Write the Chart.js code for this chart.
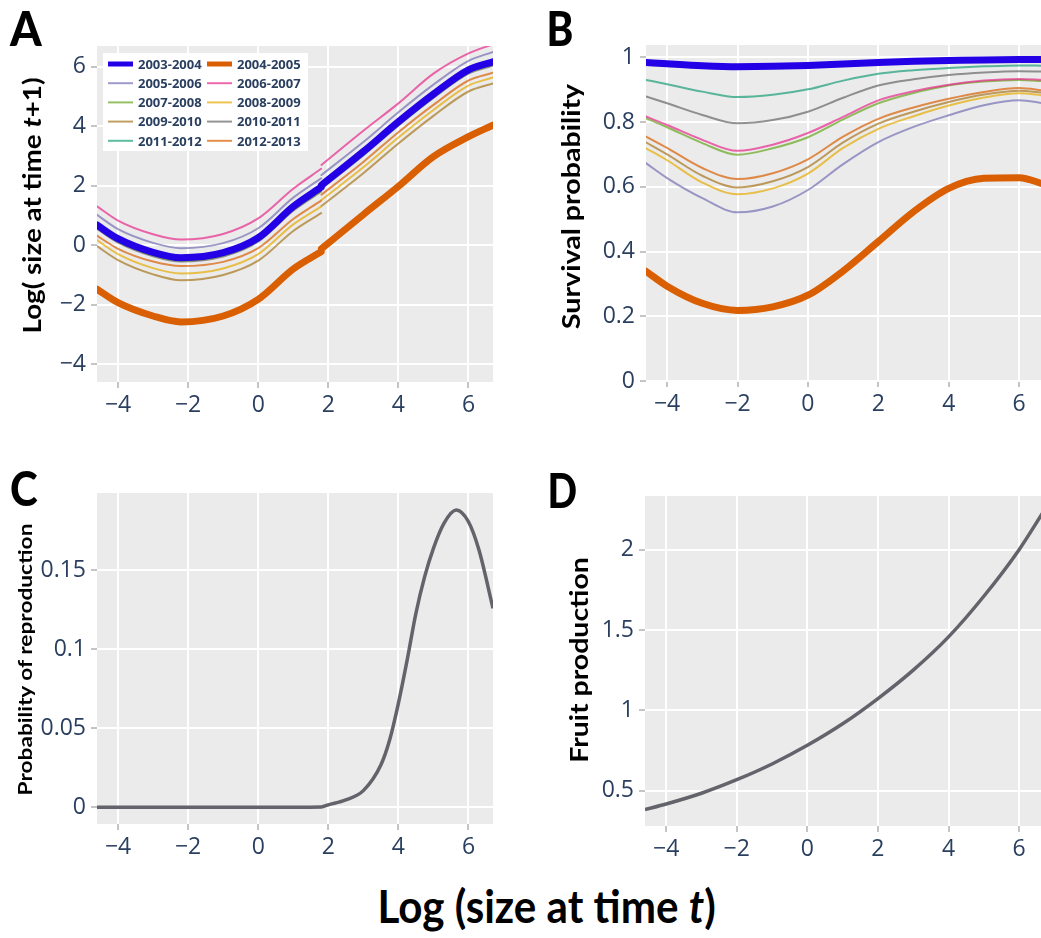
<!DOCTYPE html>
<html>
<head>
<meta charset="utf-8">
<script src="https://cdn.jsdelivr.net/npm/chart.js@4.4.0/dist/chart.umd.min.js"></script>
<style>
  body { margin: 0; width: 1041px; height: 938px; background: #fff; position: relative; overflow: hidden; font-family: Lato, sans-serif; }
  .panel { position: absolute; }
  .txt { position: absolute; white-space: nowrap; line-height: 1; color: #000; font-family: Lato, sans-serif; font-weight: bold; transform-origin: center center; }
  .letter { font-weight: 900; font-size: 48px; }
</style>
</head>
<body>
<div class="panel" style="left:0;top:0;width:500px;height:425px"><canvas id="growthChart"></canvas></div>
<div class="panel" style="left:546px;top:0;width:495px;height:425px"><canvas id="survivalChart"></canvas></div>
<div class="panel" style="left:0;top:450px;width:500px;height:425px"><canvas id="reproChart"></canvas></div>
<div class="panel" style="left:546px;top:450px;width:495px;height:425px"><canvas id="fruitChart"></canvas></div>

<div class="txt letter" id="letterA">A</div>
<div class="txt letter" id="letterB">B</div>
<div class="txt letter" id="letterC">C</div>
<div class="txt letter" id="letterD">D</div>
<div class="txt" id="titleA" style="font-size:25px">Log( size at time <i>t</i>+1)</div>
<div class="txt" id="titleB" style="font-size:25px">Survival probability</div>
<div class="txt" id="titleC" style="font-size:19px">Probability of reproduction</div>
<div class="txt" id="titleD" style="font-size:24px">Fruit production</div>
<div class="txt" id="titleX" style="font-size:46px">Log (size at time <i>t</i>)</div>

<script>
// years and their line styles
const years = ['2003-2004', '2004-2005', '2005-2006', '2006-2007', '2007-2008',
               '2008-2009', '2009-2010', '2010-2011', '2011-2012', '2012-2013'];
const yearColors = ['#2300e6', '#d95f02', 'rgba(117,112,179,0.7)', 'rgba(231,41,138,0.7)',
                    'rgba(102,166,30,0.7)', 'rgba(230,171,2,0.7)', 'rgba(166,118,29,0.7)',
                    'rgba(102,102,102,0.7)', 'rgba(27,158,119,0.7)', 'rgba(217,95,2,0.7)'];
const yearWidths = [7, 7, 2, 2, 2, 2, 2, 2, 2, 2];

// A - growth: log size at t+1 (the fitted curves have a small step at 1.8, null = break)
const sizeGrowth = [-4.6, -4, -3, -2.2, -1, 0, 1, 1.795, 1.8, 1.805, 3, 4, 5, 6, 6.7];
const growth0304 = [0.68, 0.22, -0.24, -0.42, -0.25, 0.25, 1.3, 1.95, null, 2.02, 3.15, 4.15, 5.08, 5.9, 6.17];
const growth0405 = [-1.48, -1.93, -2.38, -2.58, -2.38, -1.82, -0.8, -0.22, null, -0.12, 1.03, 1.98, 2.98, 3.65, 4.04];
const growth0506 = [1.02, 0.54, 0.08, -0.1, 0.07, 0.57, 1.6, 2.25, null, 2.36, 3.47, 4.47, 5.4, 6.2, 6.5];
const growth0607 = [1.31, 0.83, 0.37, 0.19, 0.38, 0.9, 1.9, 2.57, null, 2.7, 3.85, 4.77, 5.77, 6.45, 6.76];
const growth0708 = [0.58, 0.12, -0.34, -0.52, -0.35, 0.15, 1.2, 1.83, null, 1.93, 3.05, 4.05, 4.98, 5.8, 6.07];
const growth0809 = [0.17, -0.3, -0.77, -0.95, -0.78, -0.3, 0.7, 1.3, null, 1.52, 2.62, 3.62, 4.55, 5.37, 5.64];
const growth0910 = [-0.03, -0.5, -0.98, -1.18, -1.0, -0.52, 0.48, 1.08, null, 1.32, 2.42, 3.42, 4.35, 5.17, 5.44];
const growth1011 = [0.55, 0.09, -0.37, -0.55, -0.38, 0.12, 1.16, 1.8, null, 1.9, 3.02, 4.02, 4.95, 5.77, 6.04];
const growth1112 = [0.61, 0.15, -0.31, -0.49, -0.32, 0.18, 1.23, 1.87, null, 1.96, 3.08, 4.08, 5.01, 5.83, 6.1];
const growth1213 = [0.32, -0.12, -0.55, -0.7, -0.56, -0.1, 0.88, 1.5, null, 1.7, 2.8, 3.8, 4.72, 5.54, 5.8];

// B - survival probability
const sizeSurvival = [-4.6, -4, -3, -2, -1, 0, 1, 2, 3, 4, 5, 6, 6.7];
const surv0304 = [0.984, 0.98, 0.974, 0.971, 0.972, 0.975, 0.979, 0.984, 0.988, 0.99, 0.992, 0.993, 0.993];
const surv0405 = [0.339, 0.293, 0.24, 0.218, 0.229, 0.265, 0.34, 0.431, 0.523, 0.595, 0.626, 0.628, 0.608];
const surv0506 = [0.673, 0.627, 0.565, 0.521, 0.539, 0.59, 0.67, 0.738, 0.785, 0.821, 0.852, 0.867, 0.858];
const surv0607 = [0.817, 0.791, 0.745, 0.711, 0.73, 0.766, 0.816, 0.867, 0.895, 0.915, 0.928, 0.933, 0.93];
const surv0708 = [0.812, 0.784, 0.735, 0.699, 0.719, 0.753, 0.808, 0.858, 0.89, 0.913, 0.925, 0.93, 0.926];
const surv0809 = [0.719, 0.682, 0.613, 0.577, 0.595, 0.641, 0.72, 0.779, 0.818, 0.851, 0.876, 0.889, 0.882];
const surv0910 = [0.737, 0.7, 0.634, 0.598, 0.617, 0.661, 0.737, 0.795, 0.832, 0.862, 0.885, 0.897, 0.89];
const surv1011 = [0.879, 0.858, 0.822, 0.796, 0.806, 0.832, 0.875, 0.913, 0.932, 0.945, 0.953, 0.957, 0.956];
const surv1112 = [0.93, 0.917, 0.894, 0.877, 0.884, 0.901, 0.928, 0.949, 0.96, 0.967, 0.972, 0.975, 0.974];
const surv1213 = [0.755, 0.72, 0.658, 0.624, 0.642, 0.685, 0.755, 0.81, 0.845, 0.872, 0.893, 0.905, 0.897];

// C - probability of reproduction
const sizeRepro = [-4.6, -2, 0, 1.8, 2, 2.5, 3, 3.5, 3.75, 4, 4.25, 4.5, 4.75, 5, 5.3, 5.65, 6, 6.3, 6.7];
const reproProb = [0, 0, 0, 0.0002, 0.0015, 0.0046, 0.0105, 0.0267, 0.0425, 0.0657, 0.093, 0.1226, 0.1458, 0.1637, 0.1795, 0.1879, 0.1805, 0.1626, 0.1258];

// D - fruit production
const sizeFruit = [-4.6, -4, -3, -2, -1, 0, 1, 2, 3, 4, 5, 6, 6.7];
const fruitProd = [0.382, 0.417, 0.484, 0.568, 0.666, 0.782, 0.916, 1.073, 1.25, 1.457, 1.71, 2.0, 2.24];

const growthSeries = [growth0304, growth0405, growth0506, growth0607, growth0708,
                      growth0809, growth0910, growth1011, growth1112, growth1213];
const survSeries = [surv0304, surv0405, surv0506, surv0607, surv0708,
                    surv0809, surv0910, surv1011, surv1112, surv1213];

const tickColor = '#2a3f5f';
const tickFont = { family: '"Open Sans", sans-serif', size: 23 };

function toPoints(xs, ys) {
    return xs.map((x, i) => ({ x: x, y: ys[i] }));
}

// "−4", "0.8", "1" like the original labels
function tickLabel(value) {
    const v = +value.toFixed(4);
    return (v < 0 ? '\u2212' : '') + Math.abs(v);
}

// gray plot background like the original figure
const plotBg = {
    id: 'plotBg',
    beforeDraw(chart) {
        const a = chart.chartArea;
        const ctx = chart.ctx;
        ctx.save();
        ctx.fillStyle = '#ebebeb';
        ctx.fillRect(a.left, a.top, a.right - a.left, a.bottom - a.top);
        ctx.restore();
    }
};

// two column legend inside panel A
const yearLegend = {
    id: 'yearLegend',
    afterDatasetsDraw(chart) {
        const ctx = chart.ctx;
        ctx.save();
        ctx.fillStyle = '#ffffff';
        ctx.fillRect(103, 53, 205, 98);
        ctx.font = 'bold 13px "Open Sans", sans-serif';
        ctx.textBaseline = 'middle';
        chart.data.datasets.forEach((ds, i) => {
            const x = 108 + (i % 2) * 99;
            const y = 64 + Math.floor(i / 2) * 19.2;
            ctx.strokeStyle = ds.borderColor;
            ctx.lineWidth = Math.min(ds.borderWidth, 5);
            ctx.beginPath();
            ctx.moveTo(x, y);
            ctx.lineTo(x + 25, y);
            ctx.stroke();
            ctx.fillStyle = tickColor;
            ctx.fillText(ds.label, x + 30, y + 1);
        });
        ctx.restore();
    }
};

function axis(min, max, step, size, pad) {
    return {
        type: 'linear',
        min: min,
        max: max,
        afterFit: function(scale) {
            if (scale.isHorizontal()) scale.height = size; else scale.width = size;
        },
        border: { display: false },
        grid: { color: '#ffffff', lineWidth: 2, tickColor: '#8a8a8a', tickLength: 6, tickWidth: 1 },
        ticks: { stepSize: step, includeBounds: false, color: tickColor, font: tickFont,
                 padding: pad, maxRotation: 0, callback: tickLabel }
    };
}

function makeChart(id, datasets, xScale, yScale, padding, plugins) {
    return new Chart(document.getElementById(id), {
        type: 'line',
        data: { datasets: datasets },
        options: {
            responsive: true,
            maintainAspectRatio: false,
            animation: false,
            spanGaps: false,
            layout: { padding: padding },
            elements: { point: { radius: 0 } },
            plugins: { legend: { display: false }, tooltip: { enabled: false } },
            scales: { x: xScale, y: yScale }
        },
        plugins: [plotBg].concat(plugins || [])
    });
}

function yearDatasets(xs, series) {
    return series.map((ys, i) => ({
        label: years[i],
        data: toPoints(xs, ys),
        borderColor: yearColors[i],
        borderWidth: yearWidths[i],
        borderCapStyle: 'round',
        cubicInterpolationMode: 'monotone',
        clip: 0
    }));
}

// A
makeChart('growthChart', yearDatasets(sizeGrowth, growthSeries),
    axis(-4.6, 6.7, 2, 43, 4), axis(-4.6, 6.7, 2, 97, 5),
    { top: 46, right: 7, left: 0, bottom: 0 }, [yearLegend]);

// B
makeChart('survivalChart', yearDatasets(sizeSurvival, survSeries),
    axis(-4.6, 6.62, 2, 44, 4), axis(0, 1.038, 0.2, 100, 5),
    { top: 45, right: 0, left: 0, bottom: 0 });

// C
makeChart('reproChart', [{
        label: 'reproduction',
        data: toPoints(sizeRepro, reproProb),
        borderColor: '#63636b',
        borderWidth: 3.5,
        cubicInterpolationMode: 'monotone',
        clip: 0
    }],
    axis(-4.6, 6.7, 2, 51, 4), axis(-0.0106, 0.1987, 0.05, 97, 5),
    { top: 43, right: 7, left: 0, bottom: 0 });

// D
makeChart('fruitChart', [{
        label: 'fruit',
        data: toPoints(sizeFruit, fruitProd),
        borderColor: '#63636b',
        borderWidth: 3.5,
        cubicInterpolationMode: 'monotone',
        clip: 0
    }],
    axis(-4.6, 6.62, 2, 49, 4), axis(0.28, 2.334, 0.5, 99, 5),
    { top: 46, right: 0, left: 0, bottom: 0 });

// place text: centre point, target length along the text, rotated or not
function placeText(id, cx, cy, length, rotate) {
    const el = document.getElementById(id);
    const w = el.offsetWidth, h = el.offsetHeight;
    el.style.left = (cx - w / 2) + 'px';
    el.style.top = (cy - h / 2) + 'px';
    const sx = length ? length / w : 1;
    el.style.transform = (rotate ? 'rotate(-90deg) ' : '') + 'scaleX(' + sx + ')';
}

placeText('letterA', 26, 28, 32);
placeText('letterB', 560, 28, 27);
placeText('letterC', 24, 488, 28);
placeText('letterD', 562, 490, 30);
placeText('titleA', 31, 205, 256, true);
placeText('titleB', 570, 206, 245, true);
placeText('titleC', 25, 659, 272, true);
placeText('titleD', 578, 660, 205, true);
placeText('titleX', 546, 906, 338);
</script>
</body>
</html>
